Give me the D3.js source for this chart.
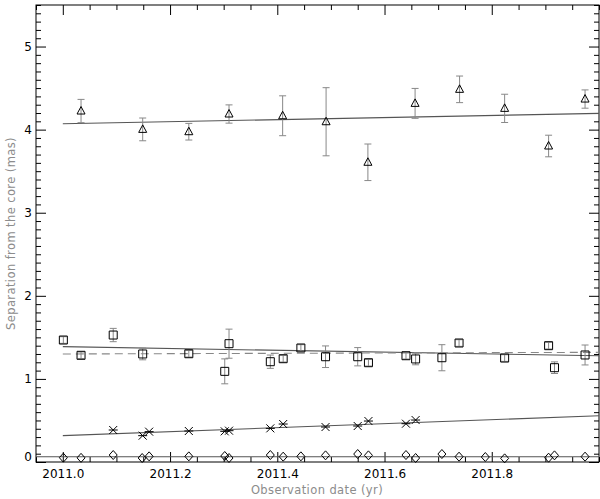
<!DOCTYPE html>
<html>
<head>
<meta charset="utf-8">
<script src="https://d3js.org/d3.v7.min.js"></script>
<style>
  body { margin: 0; background: #fff; }
  .tick text { font-family: 'DejaVu Sans', sans-serif; font-size: 12px; fill: #000; }
  .axis-title { font-family: 'DejaVu Sans', sans-serif; font-size: 11.5px; fill: #8c8c8c; letter-spacing: 0.4px; }
</style>
</head>
<body>
<div id="chart"></div>
<script>
// epochs (yr) and separations (mas)
var triEpoch = [2011.034, 2011.149, 2011.235, 2011.310, 2011.410, 2011.491, 2011.569, 2011.657, 2011.740, 2011.824, 2011.906, 2011.974];
var triSep   = [4.224, 4.003, 3.975, 4.188, 4.167, 4.095, 3.607, 4.316, 4.485, 4.256, 3.803, 4.368];
var triErr   = [0.14, 0.137, 0.10, 0.11, 0.24, 0.41, 0.22, 0.18, 0.16, 0.17, 0.13, 0.11];

var sqEpoch = [2011.001, 2011.034, 2011.094, 2011.149, 2011.235, 2011.302, 2011.310, 2011.387, 2011.411, 2011.444, 2011.490,
               2011.550, 2011.570, 2011.640, 2011.658, 2011.707, 2011.739, 2011.824, 2011.906, 2011.917, 2011.974];
var sqSep   = [1.468, 1.284, 1.528, 1.300, 1.303, 1.091, 1.424, 1.207, 1.243, 1.372, 1.267,
               1.267, 1.195, 1.279, 1.240, 1.255, 1.432, 1.251, 1.400, 1.135, 1.288];
var sqErr   = [0.04, 0.04, 0.08, 0.07, 0.04, 0.15, 0.175, 0.08, 0.04, 0.04, 0.13,
               0.11, 0.04, 0.04, 0.07, 0.157, 0.04, 0.04, 0.04, 0.07, 0.12];

var astEpoch = [2011.094, 2011.149, 2011.161, 2011.235, 2011.302, 2011.310, 2011.387, 2011.411, 2011.490, 2011.550, 2011.570, 2011.640, 2011.658];
var astSep   = [0.385, 0.317, 0.365, 0.373, 0.369, 0.377, 0.405, 0.457, 0.421, 0.433, 0.493, 0.461, 0.505];

var diaEpoch = [2011.001, 2011.034, 2011.094, 2011.148, 2011.161, 2011.235, 2011.302, 2011.310, 2011.387, 2011.411, 2011.444, 2011.490,
                2011.550, 2011.570, 2011.640, 2011.658, 2011.707, 2011.739, 2011.788, 2011.824, 2011.906, 2011.917, 2011.974];
var diaSep   = [0.052, 0.050, 0.084, 0.048, 0.068, 0.068, 0.072, 0.048, 0.084, 0.064, 0.068, 0.080,
                0.096, 0.080, 0.084, 0.048, 0.096, 0.064, 0.060, 0.044, 0.052, 0.080, 0.064];

// linear fits: end points [epoch, sep]
var fitTri     = [[2011.0, 4.070], [2012.0, 4.196]];
var fitSq      = [[2011.0, 1.388], [2012.0, 1.279]];
var fitSqDash  = [[2011.0, 1.300], [2012.0, 1.320]];
var fitAst     = [[2011.0, 0.317], [2012.0, 0.557]];
var fitDia     = [[2010.95, 0.064], [2012.0, 0.064]];

var xMajor = [2011.0, 2011.2, 2011.4, 2011.6, 2011.8];
var yMajor = [0, 1, 2, 3, 4, 5];

var margin = {top: 5, right: 1, bottom: 37, left: 36},
  width  = 600 - margin.left - margin.right,
  height = 499 - margin.top - margin.bottom;

var x = d3.scaleLinear().domain([2010.95, 2012.0]).range([0, width]);
var y = d3.scaleLinear().domain([0, 5.5]).range([height, 0]);

var svg = d3.select('#chart').append('svg')
    .attr('width', 600)
    .attr('height', 499);

var g = svg.append('g')
    .attr('transform', 'translate(' + margin.left + ',' + margin.top + ')');

var xMinor = d3.range(2010.95, 2012.0001, 0.05).map(function(v) { return +v.toFixed(2); })
  .filter(function(v) { return xMajor.indexOf(v) < 0; });
var yMinor = d3.range(0, 5.5001, 0.1).map(function(v) { return +v.toFixed(1); })
  .filter(function(v) { return yMajor.indexOf(v) < 0; });

// ticks point inwards on all four sides
function tickAxes(axisFn, scale, major, minor, transform, labels) {
  var a = g.append('g').attr('class', 'axis').attr('transform', transform);
  a.call(axisFn(scale).tickValues(major).tickSize(-10).tickPadding(labels ? 7 : 0)
    .tickFormat(labels ? labels : ''));
  a.append('g').call(axisFn(scale).tickValues(minor).tickSize(-5).tickFormat(''));
  a.selectAll('.domain').remove();
  a.selectAll('line').attr('stroke', '#000');
  return a;
}

tickAxes(d3.axisBottom, x, xMajor, xMinor, 'translate(0,' + height + ')', d3.format('.1f'));
tickAxes(d3.axisTop, x, xMajor, xMinor, 'translate(0,0)', null);
var yl = tickAxes(d3.axisLeft, y, yMajor, yMinor, 'translate(0,0)', d3.format('d'));
yl.selectAll('.tick text').attr('dx', 3)
  .attr('dy', function(d) { return d === 0 ? '-0.1em' : '0.32em'; });
tickAxes(d3.axisRight, y, yMajor, yMinor, 'translate(' + width + ',0)', null);

g.append('rect')
    .attr('width', width)
    .attr('height', height)
    .attr('fill', 'none')
    .attr('stroke', '#000');

// fit lines
var line = d3.line()
  .x(function(d) { return x(d[0]); })
  .y(function(d) { return y(d[1]); });

[fitTri, fitSq, fitAst, fitDia].forEach(function(f) {
  g.append('path').datum(f).attr('d', line)
    .attr('fill', 'none').attr('stroke', '#555').attr('stroke-width', 1.1);
});
g.append('path').datum(fitSqDash).attr('d', line)
    .attr('fill', 'none').attr('stroke', '#888').attr('stroke-width', 1.1)
    .attr('stroke-dasharray', '8,5');

// error bars
function errorBars(epochs, seps, errs) {
  var eb = g.append('g').attr('stroke', '#888').attr('stroke-width', 1);
  epochs.forEach(function(t, i) {
    var cx = x(t), y0 = y(seps[i] - errs[i]), y1 = y(seps[i] + errs[i]);
    eb.append('line').attr('x1', cx).attr('x2', cx).attr('y1', y0).attr('y2', y1);
    eb.append('line').attr('x1', cx - 3.5).attr('x2', cx + 3.5).attr('y1', y0).attr('y2', y0);
    eb.append('line').attr('x1', cx - 3.5).attr('x2', cx + 3.5).attr('y1', y1).attr('y2', y1);
  });
}
errorBars(triEpoch, triSep, triErr);
errorBars(sqEpoch, sqSep, sqErr);

// symbols
var shapes = {
  tri: 'M0,-4.5L4,3L-4,3Z',
  sq:  'M-4,-4L4,-4L4,4L-4,4Z',
  dia: 'M0,-4.5L4,0L0,4.5L-4,0Z',
  ast: 'M-4,-4L4,4M-4,4L4,-4M-4.5,0L4.5,0'
};

function points(epochs, seps, shape) {
  g.append('g').selectAll('path')
      .data(epochs)
    .enter().append('path')
      .attr('d', shapes[shape])
      .attr('transform', function(d, i) { return 'translate(' + x(d) + ',' + y(seps[i]) + ')'; })
      .attr('fill', 'none')
      .attr('stroke', '#000')
      .attr('stroke-width', 1);
}
points(triEpoch, triSep, 'tri');
points(sqEpoch, sqSep, 'sq');
points(astEpoch, astSep, 'ast');
points(diaEpoch, diaSep, 'dia');

// axis titles
svg.append('text')
    .attr('class', 'axis-title')
    .attr('x', 317)
    .attr('y', 494)
    .attr('text-anchor', 'middle')
    .text('Observation date (yr)');

svg.append('text')
    .attr('class', 'axis-title')
    .attr('transform', 'translate(15,' + (margin.top + height / 2) + ') rotate(-90)')
    .attr('text-anchor', 'middle')
    .text('Separation from the core (mas)');
</script>
</body>
</html>
